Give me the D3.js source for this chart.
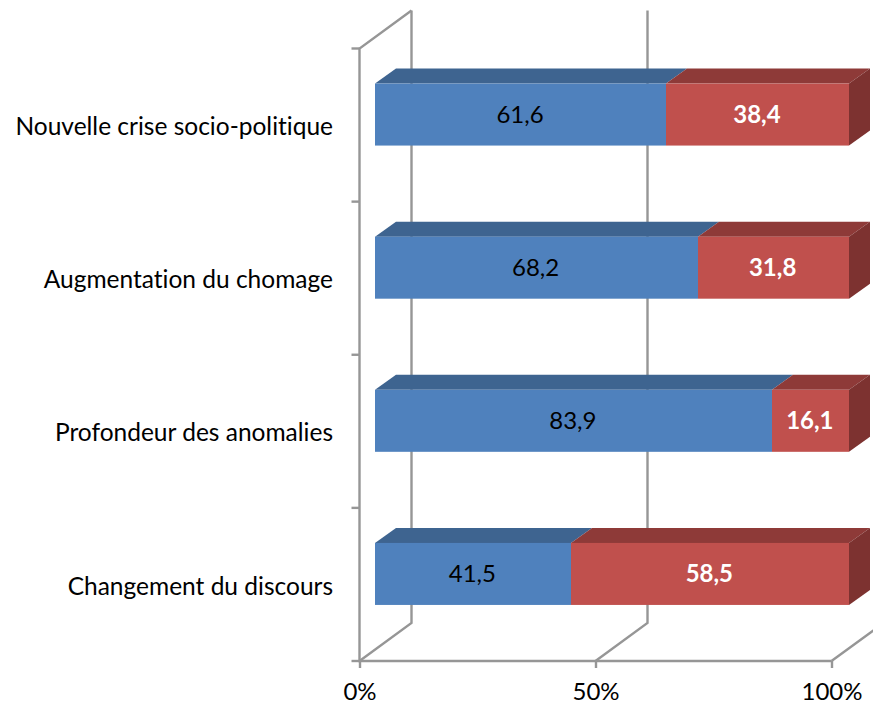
<!DOCTYPE html>
<html lang="fr">
<head>
    <meta charset="utf-8">
    <title>Chart</title>
    <style>
        html, body { margin: 0; padding: 0; background: #fff; }
        svg { display: block; }
        text { font-family: Lato, 'Open Sans', sans-serif; font-size: 24px; fill: #000; font-variant-ligatures: none; }
        .wall { stroke: #969696; stroke-width: 2.4; fill: none; }
        .tick line, .cat-tick { stroke: #969696; stroke-width: 2.4; }
        .domain { display: none; }
    </style>
    <script src="https://d3js.org/d3.v7.min.js" charset="utf-8"></script>
</head>
<body>
    <svg id="chart" width="873" height="706"></svg>

    <script type="text/javascript">
    var categories = ["Nouvelle crise socio-politique", "Augmentation du chomage", "Profondeur des anomalies", "Changement du discours"];
    var blueValues = [61.6, 68.2, 83.9, 41.5];
    var redValues = [38.4, 31.8, 16.1, 58.5];
    var xTicks = [0, 50, 100];

    var svg = d3.select("#chart");
    var comma = function(v) { return d3.format(".1f")(v).replace(".", ","); };

    // front plane of the 3d box
    var x = d3.scaleLinear().domain([0, 100]).range([359.5, 831.5]);
    var y = d3.scaleBand().domain(categories).range([48.5, 661]);
    // bars sit a bit deeper in the box
    var barX = d3.scaleLinear().domain([0, 100]).range([375, 849]);
    var wallDx = 52, wallDy = -38;
    var depthX = 21, depthY = -15;
    var barH = 62, barShift = -10.5;

    var line = d3.line();

    // back wall gridlines + floor lines
    xTicks.forEach(function(t) {
      svg.append("path").attr("class", "wall")
        .attr("d", line([[x(t), y.range()[1]], [x(t) + wallDx, y.range()[1] + wallDy], [x(t) + wallDx, y.range()[0] + wallDy]]));
    });
    // left wall
    svg.append("path").attr("class", "wall")
      .attr("d", line([[x(0) + wallDx, y.range()[0] + wallDy], [x(0), y.range()[0]], [x(0), y.range()[1]], [x(100), y.range()[1]]]));

    // category ticks on band edges
    var edges = categories.map(function(c) { return y(c); }).concat([y.range()[1]]);
    svg.selectAll(".cat-tick").data(edges).enter().append("line")
      .attr("class", "cat-tick")
      .attr("x1", x(0) - 8).attr("x2", x(0))
      .attr("y1", function(d) { return d; }).attr("y2", function(d) { return d; });

    // x axis
    var xAxis = d3.axisBottom(x).tickValues(xTicks).tickSize(7).tickPadding(15)
      .tickFormat(function(d) { return d + "%"; });
    svg.append("g").attr("transform", "translate(0," + y.range()[1] + ")").call(xAxis)
      .selectAll("text").style("font-size", "24px").style("font-family", "Lato, 'Open Sans', sans-serif");

    function drawSegment(cat, from, to, front, top, side, withSide) {
      var yTop = y(cat) + y.bandwidth() / 2 + barShift - barH / 2;
      // whole pixels so no seam shows between the two colours
      var x0 = Math.floor(barX(from)), x1 = Math.floor(barX(to));
      var g = svg.append("g");
      g.append("path").attr("fill", top)
        .attr("d", line([[x0, yTop], [x0 + depthX, yTop + depthY], [x1 + depthX, yTop + depthY], [x1, yTop]]) + "Z");
      if (withSide) {
        g.append("path").attr("fill", side)
          .attr("d", line([[x1, yTop], [x1 + depthX, yTop + depthY], [x1 + depthX, yTop + depthY + barH], [x1, yTop + barH]]) + "Z");
      }
      g.append("rect").attr("fill", front)
        .attr("x", x0).attr("y", yTop).attr("width", x1 - x0).attr("height", barH);
      return yTop;
    }

    categories.forEach(function(cat, i) {
      var yMid = y(cat) + y.bandwidth() / 2;
      var blue = blueValues[i], red = redValues[i];
      var yTop = drawSegment(cat, 0, blue, "#4f81bd", "#3e6490", "#375a82", false);
      drawSegment(cat, blue, blue + red, "#c0504d", "#8e3a38", "#7d3230", true);

      svg.append("text").attr("x", barX(blue / 2) - 1).attr("y", yTop + barH / 2)
        .attr("dy", "0.35em").attr("text-anchor", "middle").text(comma(blue));
      svg.append("text").attr("x", barX(blue + red / 2) - 1).attr("y", yTop + barH / 2)
        .attr("dy", "0.35em").attr("text-anchor", "middle")
        .style("fill", "#fff").style("font-weight", "bold").text(comma(red));

      svg.append("text").attr("x", 333).attr("y", yMid + 1.5)
        .attr("dy", "0.35em").attr("text-anchor", "end").style("font-size", "24.5px").text(cat);
    });
    </script>
</body>
</html>
